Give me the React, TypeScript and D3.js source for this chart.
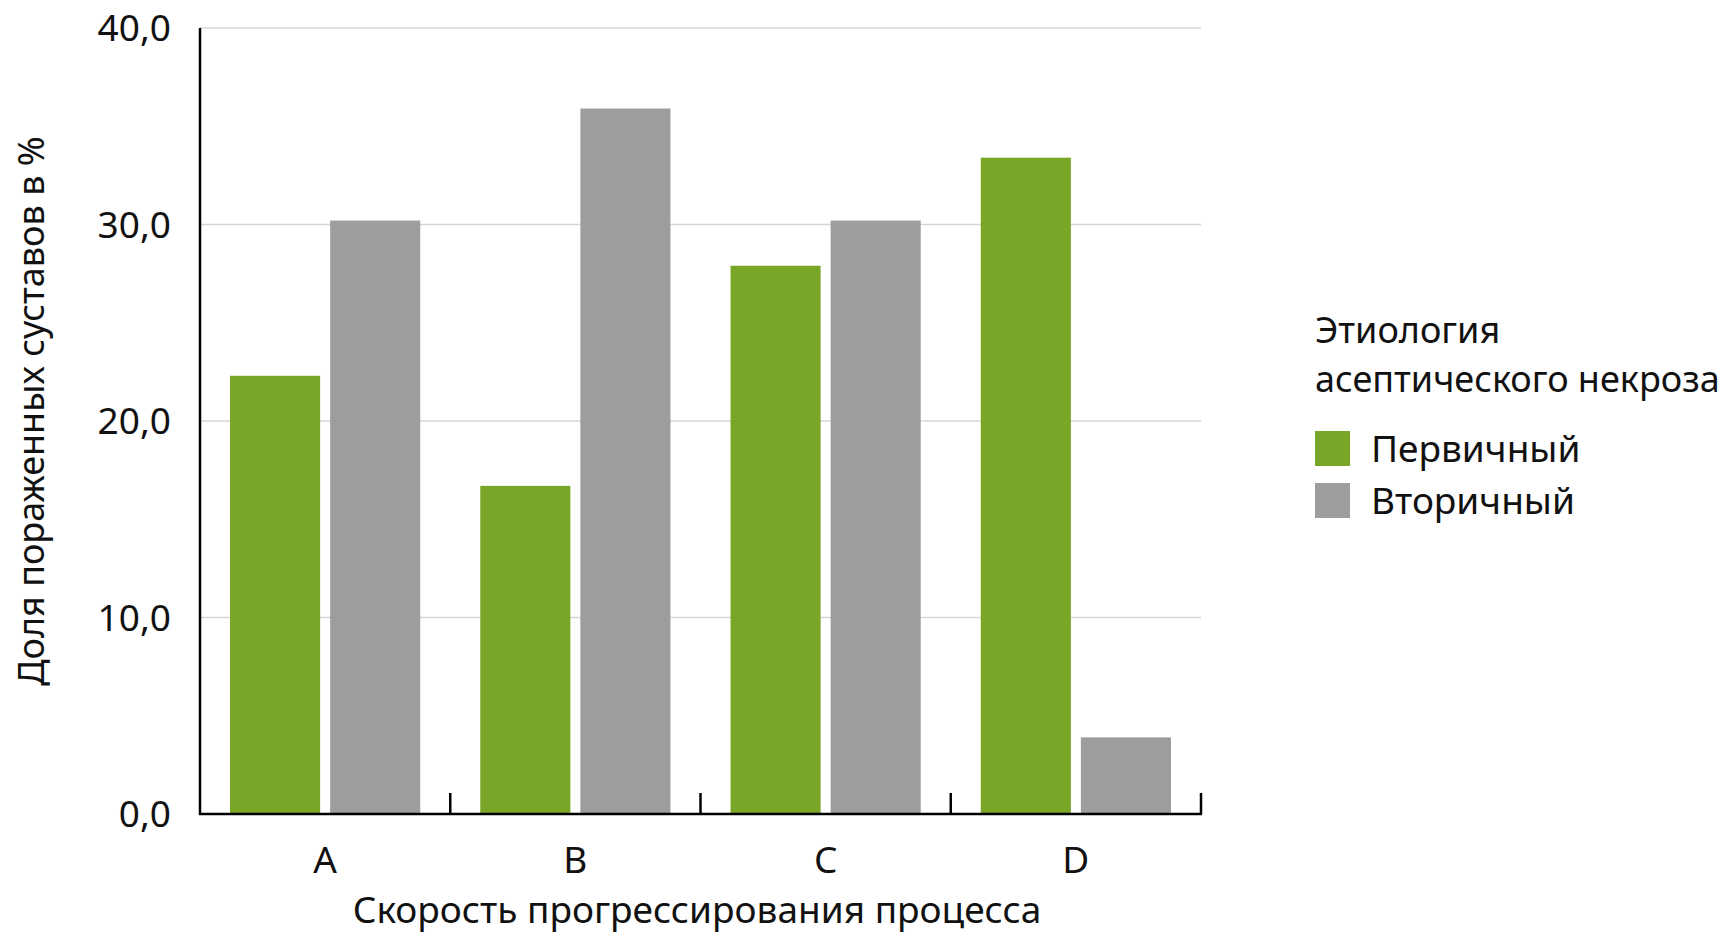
import React from "react";
import * as d3 from "d3";

const categories = ["A", "B", "C", "D"];
const seriesNames = ["Первичный", "Вторичный"];
const primaryValues = [22.3, 16.7, 27.9, 33.4];
const secondaryValues = [30.2, 35.9, 30.2, 3.9];
const yTicks = [0, 10, 20, 30, 40];
const colors = ["#79a626", "#9d9d9c"];
const xTitle = "Скорость прогрессирования процесса";
const yTitle = "Доля пораженных суставов в %";
const legendTitle = ["Этиология", "асептического некроза"];

const W = 1733;
const H = 938;
const FONT = "'Noto Sans', 'Open Sans', sans-serif";

export default function App() {
  const left = 200;
  const right = 1201;
  const top = 28;
  const bottom = 814;

  const x = d3.scaleBand<string>().domain(categories).range([left, right]).padding(0);
  const bw = x.bandwidth();
  const xi = d3
    .scaleBand<string>()
    .domain(seriesNames)
    .range([0, bw])
    .paddingInner(0.1)
    .paddingOuter(0.3);
  const y = d3.scaleLinear().domain([0, 40]).range([bottom, top]);
  const fmt = (v: number) => d3.format(".1f")(v).replace(".", ",");
  const values = [primaryValues, secondaryValues];

  const boundaries = categories.map((c) => (x(c) as number) + bw);

  return (
    <svg
      width={W}
      height={H}
      style={{ position: "absolute", left: 0, top: 0, display: "block", background: "#fff" }}
      fontFamily={FONT}
    >
      {yTicks
        .filter((t) => t > 0)
        .map((t) => (
          <line key={"g" + t} x1={left} x2={right} y1={y(t)} y2={y(t)} stroke="#d6d6d6" strokeWidth={1.5} />
        ))}
      {categories.map((c, ci) =>
        seriesNames.map((s, si) => {
          const v = values[si][ci];
          const bx = (x(c) as number) + (xi(s) as number);
          return (
            <rect
              key={c + s}
              x={bx}
              y={y(v)}
              width={xi.bandwidth()}
              height={y(0) - y(v)}
              fill={colors[si]}
            />
          );
        })
      )}
      <line x1={left} x2={left} y1={top} y2={bottom + 1} stroke="#000" strokeWidth={2.5} />
      <line x1={left - 1} x2={right + 1} y1={bottom} y2={bottom} stroke="#000" strokeWidth={2.5} />
      {boundaries.map((b, i) => (
        <line key={"t" + i} x1={b} x2={b} y1={bottom} y2={bottom - 21} stroke="#000" strokeWidth={2.5} />
      ))}
      {yTicks.map((t) => (
        <text key={"yl" + t} x={171} y={y(t)} dy="0.36em" textAnchor="end" fontSize={37} fill="#111">
          {fmt(t)}
        </text>
      ))}
      {categories.map((c) => (
        <text key={"xl" + c} x={(x(c) as number) + bw / 2} y={873} textAnchor="middle" fontSize={37} fill="#111">
          {c}
        </text>
      ))}
      <text x={697} y={923} textAnchor="middle" fontSize={37} fill="#111">
        {xTitle}
      </text>
      <text transform={`translate(44, 411) rotate(-90)`} textAnchor="middle" fontSize={36} fill="#111">
        {yTitle}
      </text>
      <text x={1315} y={343} fontSize={36} fill="#111">
        {legendTitle[0]}
      </text>
      <text x={1315} y={392} fontSize={36} fill="#111">
        {legendTitle[1]}
      </text>
      {seriesNames.map((s, i) => (
        <g key={"lg" + s}>
          <rect x={1315} y={431 + i * 52} width={35} height={35} fill={colors[i]} />
          <text x={1371} y={462 + i * 52} fontSize={37} fill="#111">
            {s}
          </text>
        </g>
      ))}
    </svg>
  );
}
